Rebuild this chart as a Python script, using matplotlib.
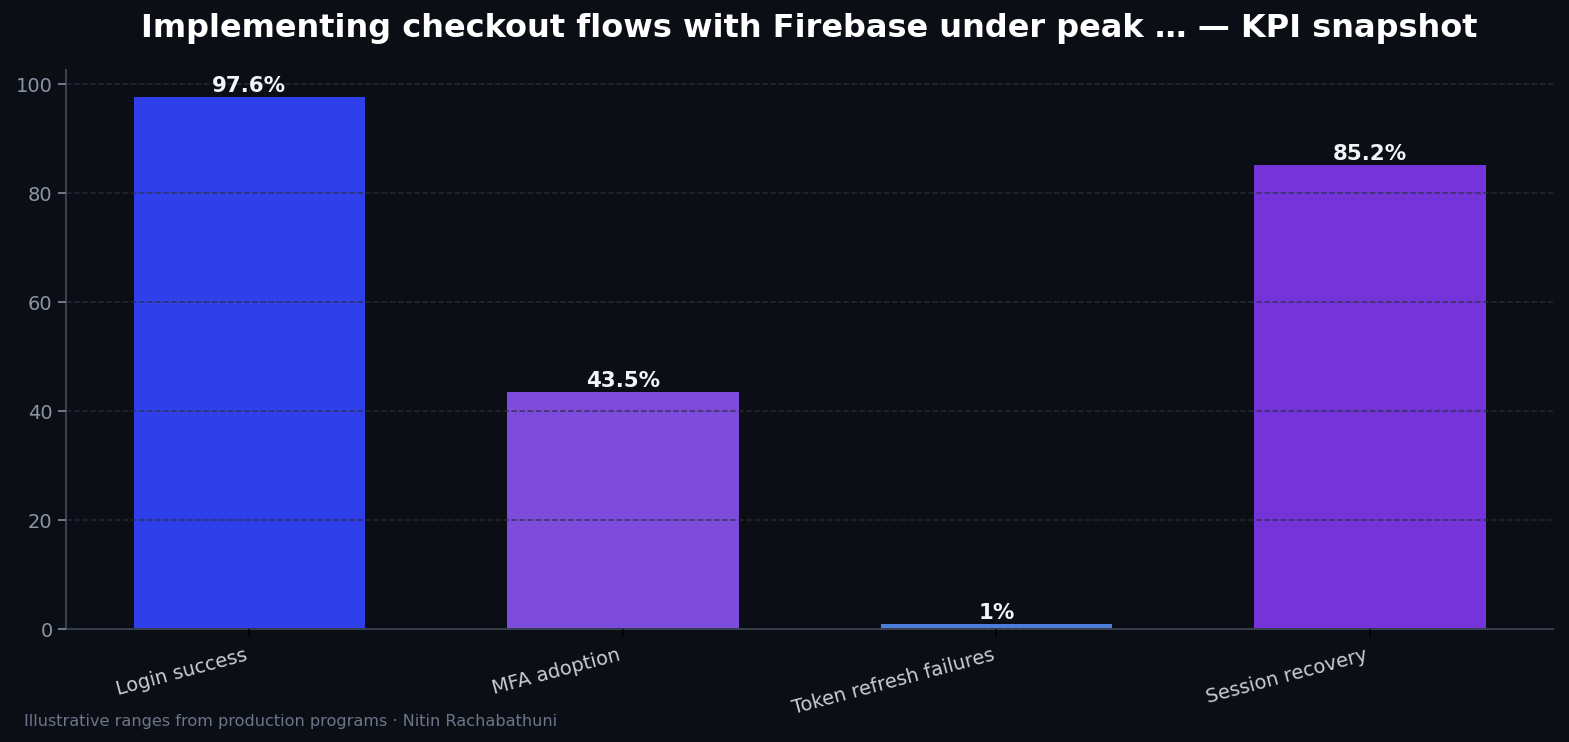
import matplotlib
matplotlib.use("Agg")
import matplotlib.pyplot as plt

plt.rcParams["font.family"] = ["DejaVu Sans"]

categories = ["Login success", "MFA adoption", "Token refresh failures", "Session recovery"]
values = [97.6, 43.5, 1.0, 85.2]
labels = ["97.6%", "43.5%", "1%", "85.2%"]
colors = ["#2f40ea", "#7e4cdc", "#4c7fdc", "#7434d9"]

bg = "#0b0e14"
fig, ax = plt.subplots(figsize=(15.69, 7.42), dpi=100)
fig.patch.set_facecolor(bg)
ax.set_facecolor(bg)

x = range(len(categories))
bars = ax.bar(x, values, width=0.62, color=colors, zorder=1)
ax.set_ylim(0, max(values) * 1.05)

for b, lab in zip(bars, labels):
    ax.text(b.get_x() + b.get_width() / 2, b.get_height() + 0.2, lab,
            ha="center", va="bottom", color="#f2f4f8", fontsize=15.4, fontweight="bold")

ax.grid(axis="y", linestyle="--", color="#2a3040", linewidth=1.1, alpha=0.8, zorder=2)
ax.set_axisbelow(False)

ax.set_xticks(list(x))
ax.set_xticklabels(categories, rotation=15, ha="right", color="#c8cdd8", fontsize=14)
ax.tick_params(axis="y", colors="#8a96a8", labelsize=14, length=6, width=1.1)
ax.tick_params(axis="x", colors="#000000", labelcolor="#c8cdd8", length=6, width=1.1, pad=6)
for s in ["top", "right"]:
    ax.spines[s].set_visible(False)
for s in ["left", "bottom"]:
    ax.spines[s].set_color("#3a4454")
    ax.spines[s].set_linewidth(1.4)

ax.set_title("Implementing checkout flows with Firebase under peak … — KPI snapshot",
             color="white", fontsize=23, fontweight="bold", pad=24)
fig.text(0.015, 0.021, "Illustrative ranges from production programs · Nitin Rachabathuni",
         color="#6b7689", fontsize=11.6)

fig.subplots_adjust(left=0.042, right=0.99, top=0.905, bottom=0.152)
fig.savefig("out.png", dpi=100, facecolor=bg)
